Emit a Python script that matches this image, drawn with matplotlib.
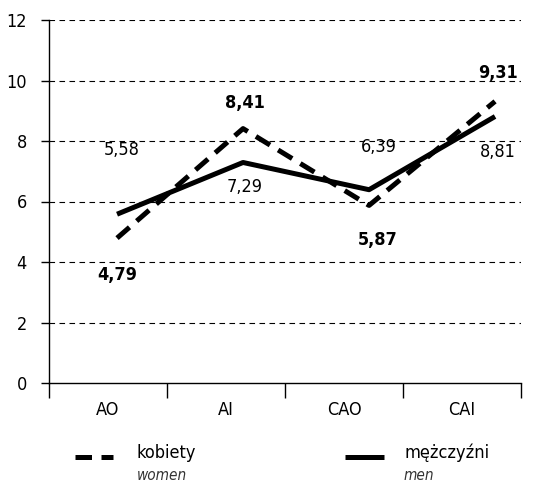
import matplotlib
matplotlib.use("Agg")
import matplotlib.pyplot as plt
from matplotlib.lines import Line2D
from matplotlib.ticker import FixedLocator, NullFormatter, FixedFormatter

plt.rcParams['font.family'] = ['DejaVu Sans']
plt.rcParams['font.stretch'] = 'condensed'

categories = ["AO", "AI", "CAO", "CAI"]
women = [4.79, 8.41, 5.87, 9.31]
men = [5.58, 7.29, 6.39, 8.81]
women_labels = ["4,79", "8,41", "5,87", "9,31"]
men_labels = ["5,58", "7,29", "6,39", "8,81"]
yticks = [0, 2, 4, 6, 8, 10, 12]

# label offsets in pixels (dx, dy)
women_off = [(0, -37), (2, 26), (9, -35), (3, 28)]
men_off = [(5, 64), (2, -25), (10, 43), (3, -36)]

W, H = 559, 482
fig = plt.figure(figsize=(W / 100, H / 100), dpi=100)
ax = fig.add_axes([49 / W, 1 - 383 / H, 472 / W, 363 / H])

ax.set_ylim(0, 12)
ax.set_xlim(0, len(categories))
ax.set_yticks(yticks)
ax.set_yticklabels([str(v) for v in yticks])
ax.xaxis.set_major_locator(FixedLocator(range(len(categories) + 1)))
ax.xaxis.set_major_formatter(NullFormatter())
ax.xaxis.set_minor_locator(FixedLocator([i + 0.5 for i in range(len(categories))]))
ax.xaxis.set_minor_formatter(FixedFormatter(categories))
ax.tick_params(axis='x', which='major', length=11, width=1, color='black', direction='out')
ax.tick_params(axis='x', which='minor', length=0, pad=13, labelsize=13)
ax.tick_params(axis='y', length=6, width=1, pad=10, labelsize=13)
for s in ['top', 'right']:
    ax.spines[s].set_visible(False)
ax.spines['left'].set_linewidth(1)
ax.spines['bottom'].set_linewidth(1)
for v in yticks[1:]:
    ax.axhline(v, color='black', lw=0.8, linestyle=(0, (5, 4)), zorder=1)

ax2 = ax.twiny()
ax2.set_xlim(-0.540, 3.206)
ax2.set_ylim(0, 12)
ax2.axis('off')
x = list(range(len(categories)))
dash_style = (0, (3.3, 1.9))
ax2.plot(x, men, color='black', lw=3.6, solid_capstyle='butt', zorder=3)
ax2.plot(x, women, color='black', lw=3.6, linestyle=dash_style, dash_capstyle='butt', zorder=3)

for xi, v, lab, off in zip(x, women, women_labels, women_off):
    ax2.annotate(lab, (xi, v), xytext=(off[0] * 0.72, off[1] * 0.72), textcoords='offset points',
                 ha='center', va='center', fontsize=13, fontweight='bold')
for xi, v, lab, off in zip(x, men, men_labels, men_off):
    ax2.annotate(lab, (xi, v), xytext=(off[0] * 0.72, off[1] * 0.72), textcoords='offset points',
                 ha='center', va='center', fontsize=13)

# legend
ly = 1 - 457 / H
fig.add_artist(Line2D([75 / W, 113 / W], [ly, ly], color='black', lw=3.6,
                      linestyle=dash_style, dash_capstyle='butt'))
fig.add_artist(Line2D([345 / W, 384 / W], [ly, ly], color='black', lw=3.6, solid_capstyle='butt'))
fig.text(137 / W, 1 - 453 / H, "kobiety", fontsize=13, va='center', ha='left')
fig.text(137 / W, 1 - 475 / H, "women", fontsize=11, va='center', ha='left', style='italic', color='#333333')
fig.text(404 / W, 1 - 453 / H, "mężczyźni", fontsize=13, va='center', ha='left')
fig.text(404 / W, 1 - 475 / H, "men", fontsize=11, va='center', ha='left', style='italic', color='#333333')

fig.savefig("out.png", dpi=100)
